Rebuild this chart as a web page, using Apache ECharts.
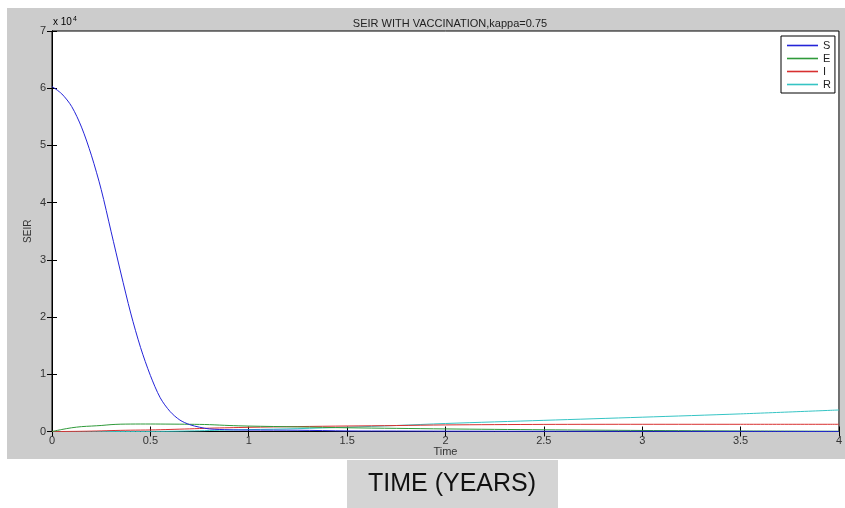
<!DOCTYPE html>
<html>
<head>
<meta charset="utf-8">
<script src="https://cdn.jsdelivr.net/npm/echarts@6/dist/echarts.min.js"></script>
<style>html,body{margin:0;padding:0;background:#fff;}#c{width:845px;height:508px;}</style>
</head>
<body>
<div id="c"></div>
<script>
const chartTitle = 'SEIR WITH VACCINATION,kappa=0.75';
const caption = 'TIME (YEARS)';
const seriesNames = ['S', 'E', 'I', 'R'];
const xTicks = [0, 0.5, 1, 1.5, 2, 2.5, 3, 3.5, 4];
const yTicks = [0, 1, 2, 3, 4, 5, 6, 7];
const time = [0, 0.05, 0.1, 0.15, 0.2, 0.25, 0.3, 0.35, 0.4, 0.45, 0.5, 0.55, 0.6, 0.65, 0.7, 0.75, 0.8, 0.9, 1.0, 1.25, 1.5, 1.75, 2, 2.5, 3, 3.5, 4];
const valuesS = [60300, 59000, 56800, 53200, 48300, 42300, 35000, 27700, 20700, 14700, 9800, 5900, 3500, 2000, 1200, 750, 450, 300, 250, 220, 100, 80, 60, 40, 30, 20, 10];
const valuesE = [0, 350, 650, 850, 950, 1050, 1200, 1280, 1300, 1310, 1310, 1300, 1290, 1280, 1260, 1240, 1200, 1050, 950, 800, 650, 550, 450, 300, 180, 90, 40];
const valuesI = [0, 5, 20, 40, 70, 110, 160, 200, 230, 250, 270, 310, 360, 410, 460, 520, 580, 660, 730, 860, 960, 1040, 1150, 1240, 1260, 1260, 1260];
const valuesR = [0, 0, 0, 0, 0, 0, 5, 8, 10, 15, 20, 30, 50, 70, 100, 130, 170, 250, 330, 500, 750, 1050, 1400, 1950, 2500, 3080, 3760];
const colors = ['#2424d8', '#2f9a3a', '#d83030', '#35c4c4'];
const allValues = [valuesS, valuesE, valuesI, valuesR];

const FONT = 'Liberation Sans, Arial, sans-serif';
const chart = echarts.init(document.getElementById('c'), null, {renderer: 'canvas'});

const series = seriesNames.map((n, i) => ({
  name: n,
  type: 'line',
  data: time.map((t, k) => [t, allValues[i][k]]),
  symbol: 'none',
  smooth: 0.3,
  lineStyle: {width: 1, color: colors[i]},
  itemStyle: {color: colors[i]},
  z: 5 + (3 - i)
}));

const xCommon = {
  type: 'value', min: xTicks[0], max: xTicks[xTicks.length - 1], interval: 0.5,
  splitLine: {show: false},
  axisLine: {show: true, lineStyle: {color: '#000', width: 1}},
  axisTick: {show: true, inside: true, length: 5, lineStyle: {color: '#000'}}
};
const yCommon = {
  type: 'value', min: 0, max: 70000, interval: 10000,
  splitLine: {show: false},
  axisLine: {show: true, lineStyle: {color: '#000', width: 1}},
  axisTick: {show: true, inside: true, length: 5, lineStyle: {color: '#000'}}
};

chart.setOption({
  animation: false,
  backgroundColor: '#ffffff',
  textStyle: {fontFamily: FONT},
  graphic: [
    {type: 'rect', z: -100, silent: true, shape: {x: 7, y: 8, width: 838, height: 451}, style: {fill: '#cccccc'}},
    {type: 'rect', z: -100, silent: true, shape: {x: 347, y: 460, width: 211, height: 48}, style: {fill: '#d4d4d4'}},
    {type: 'text', z: 10, x: 452, y: 484, style: {text: caption, fill: '#111', font: '25px ' + FONT, align: 'center', verticalAlign: 'middle', textAlign: 'center', textVerticalAlign: 'middle'}},
    {type: 'text', z: 10, x: 53, y: 22, style: {text: '{a|x 10}{b|4}', verticalAlign: 'middle', textVerticalAlign: 'middle', rich: {a: {fontSize: 10, fontFamily: FONT, color: '#333'}, b: {fontSize: 7, fontFamily: FONT, color: '#333', verticalAlign: 'top', padding: [0, 0, 6, 1]}}}}
  ],
  title: {
    text: chartTitle, left: 445, top: 13, textAlign: 'center',
    textStyle: {fontSize: 11, fontWeight: 'normal', color: '#222', fontFamily: FONT}
  },
  legend: {
    data: seriesNames.map((n, i) => ({name: n, itemStyle: {color: colors[i]}})),
    orient: 'vertical', left: 781, top: 36,
    icon: 'rect',
    padding: [3, 4, 2, 6], itemGap: 0, itemWidth: 31, itemHeight: 1.6,
    backgroundColor: '#ffffff', borderColor: '#000', borderWidth: 1, borderRadius: 0,
    textStyle: {fontSize: 11, lineHeight: 13, height: 13, color: '#222', fontFamily: FONT}
  },
  grid: {
    left: 52, top: 31, right: 6, bottom: 76.5,
    show: true, backgroundColor: '#ffffff', borderColor: '#000', borderWidth: 1
  },
  xAxis: [
    Object.assign({}, xCommon, {
      position: 'bottom', name: 'Time', nameLocation: 'middle', nameGap: 15, nameMoveOverlap: false,
      nameTextStyle: {fontSize: 11, color: '#333', fontFamily: FONT},
      axisLabel: {fontSize: 11, color: '#333', margin: 4, fontFamily: FONT}
    }),
    Object.assign({}, xCommon, {position: 'top', axisLabel: {show: false}})
  ],
  yAxis: [
    Object.assign({}, yCommon, {
      position: 'left', name: 'SEIR', nameLocation: 'middle', nameGap: 19, nameRotate: 90, nameMoveOverlap: false,
      nameTextStyle: {fontSize: 10, color: '#333', fontFamily: FONT},
      axisLabel: {fontSize: 11, color: '#333', margin: 6, fontFamily: FONT,
        formatter: v => String(yTicks[Math.round(v / 10000)])}
    }),
    Object.assign({}, yCommon, {position: 'right', axisLabel: {show: false}})
  ],
  series: series
});
</script>
</body>
</html>
